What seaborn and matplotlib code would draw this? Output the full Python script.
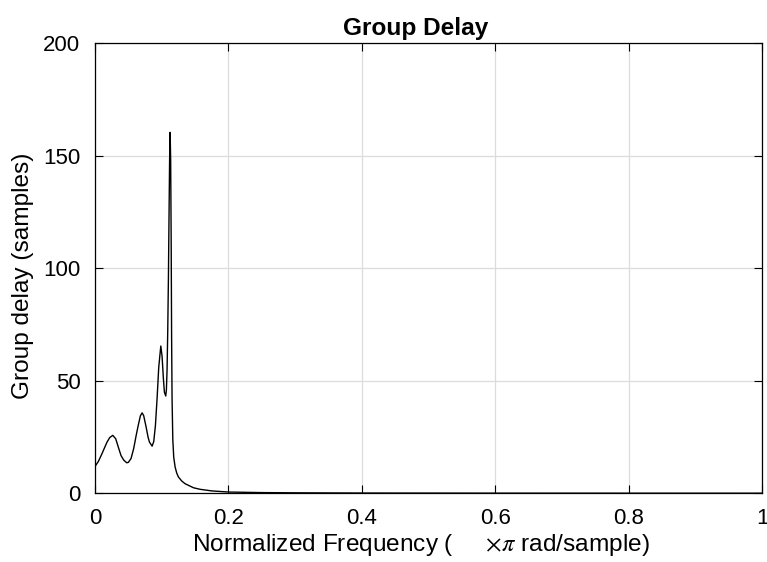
import matplotlib
matplotlib.use("Agg")
import matplotlib.pyplot as plt
import seaborn as sns
import pandas as pd

# Normalized frequency (x pi rad/sample) and group delay (samples)
freq = [0.000, 0.005, 0.0105, 0.015, 0.018, 0.022, 0.0266, 0.031, 0.0355, 0.039,
        0.043, 0.0475, 0.050, 0.054, 0.058, 0.0615, 0.0646, 0.068, 0.0706, 0.073,
        0.0766, 0.0795, 0.0816, 0.0856, 0.088, 0.0905, 0.093, 0.0955, 0.0986, 0.1005,
        0.1025, 0.104, 0.106, 0.107, 0.108, 0.109, 0.110, 0.111, 0.1118, 0.1126,
        0.1134, 0.1142, 0.1148, 0.1155, 0.1166, 0.118, 0.1201, 0.1225, 0.125, 0.130,
        0.135, 0.1476, 0.1577, 0.175, 0.200, 0.250, 0.300, 0.400, 0.600, 0.800, 1.000]
delay = [12.0, 14.2, 17.7, 20.8, 22.8, 24.8, 25.8, 24.3, 20.0, 16.8,
         14.8, 13.6, 13.8, 15.5, 20.0, 25.5, 30.0, 34.5, 35.8, 34.5,
         29.5, 25.0, 22.8, 21.0, 23.0, 30.0, 42.0, 56.0, 65.5, 61.0,
         51.0, 45.0, 43.3, 46.0, 55.0, 72.0, 95.0, 125.0, 148.0, 160.5,
         148.0, 110.0, 70.0, 42.0, 24.0, 16.0, 11.7, 9.0, 7.3, 5.5,
         4.3, 2.5, 1.8, 1.1, 0.6, 0.35, 0.25, 0.15, 0.10, 0.08, 0.07]

xticks = [0, 0.2, 0.4, 0.6, 0.8, 1]
xticklabels = ["0", "0.2", "0.4", "0.6", "0.8", "1"]
yticks = [0, 50, 100, 150, 200]
yticklabels = ["0", "50", "100", "150", "200"]

sns.set_theme(style="whitegrid")
plt.rcParams['font.family'] = ['Liberation Sans', 'DejaVu Sans']
plt.rcParams['mathtext.fontset'] = 'stix'

df = pd.DataFrame({"f": freq, "gd": delay})

fig = plt.figure(figsize=(7.67, 5.62), dpi=100)
ax = fig.add_axes([0.1239, 0.1221, 0.8696, 0.8005])
ax.set_facecolor("white")
sns.lineplot(data=df, x="f", y="gd", ax=ax, color="black", linewidth=1.0)

ax.set_xlim(0, 1)
ax.set_ylim(0, 200)
ax.set_xticks(xticks)
ax.set_xticklabels(xticklabels)
ax.set_yticks(yticks)
ax.set_yticklabels(yticklabels)
ax.grid(True, color="#dcdcdc", linewidth=0.9)
for s in ax.spines.values():
    s.set_visible(True)
    s.set_color("black")
    s.set_linewidth(0.9)
ax.tick_params(axis="both", which="both", direction="in", length=6, width=0.8,
               color="black", labelsize=16, top=True, right=True,
               bottom=True, left=True, labelcolor="black")
ax.tick_params(axis="x", pad=10.5)
ax.tick_params(axis="y", pad=10.5)

ax.set_xlabel("Normalized Frequency (     $\\times\\pi$ rad/sample)", fontsize=17.6,
              color="black", labelpad=2)
ax.xaxis.set_label_coords(0.489, -0.085)
ax.set_ylabel("Group delay (samples)", fontsize=17.6, color="black", labelpad=6)
ax.yaxis.set_label_coords(-0.091, 0.483)
ax.set_title("Group Delay", fontsize=17.6, fontweight="bold", color="black", pad=6, x=0.48)

fig.savefig("out.png", dpi=100)
